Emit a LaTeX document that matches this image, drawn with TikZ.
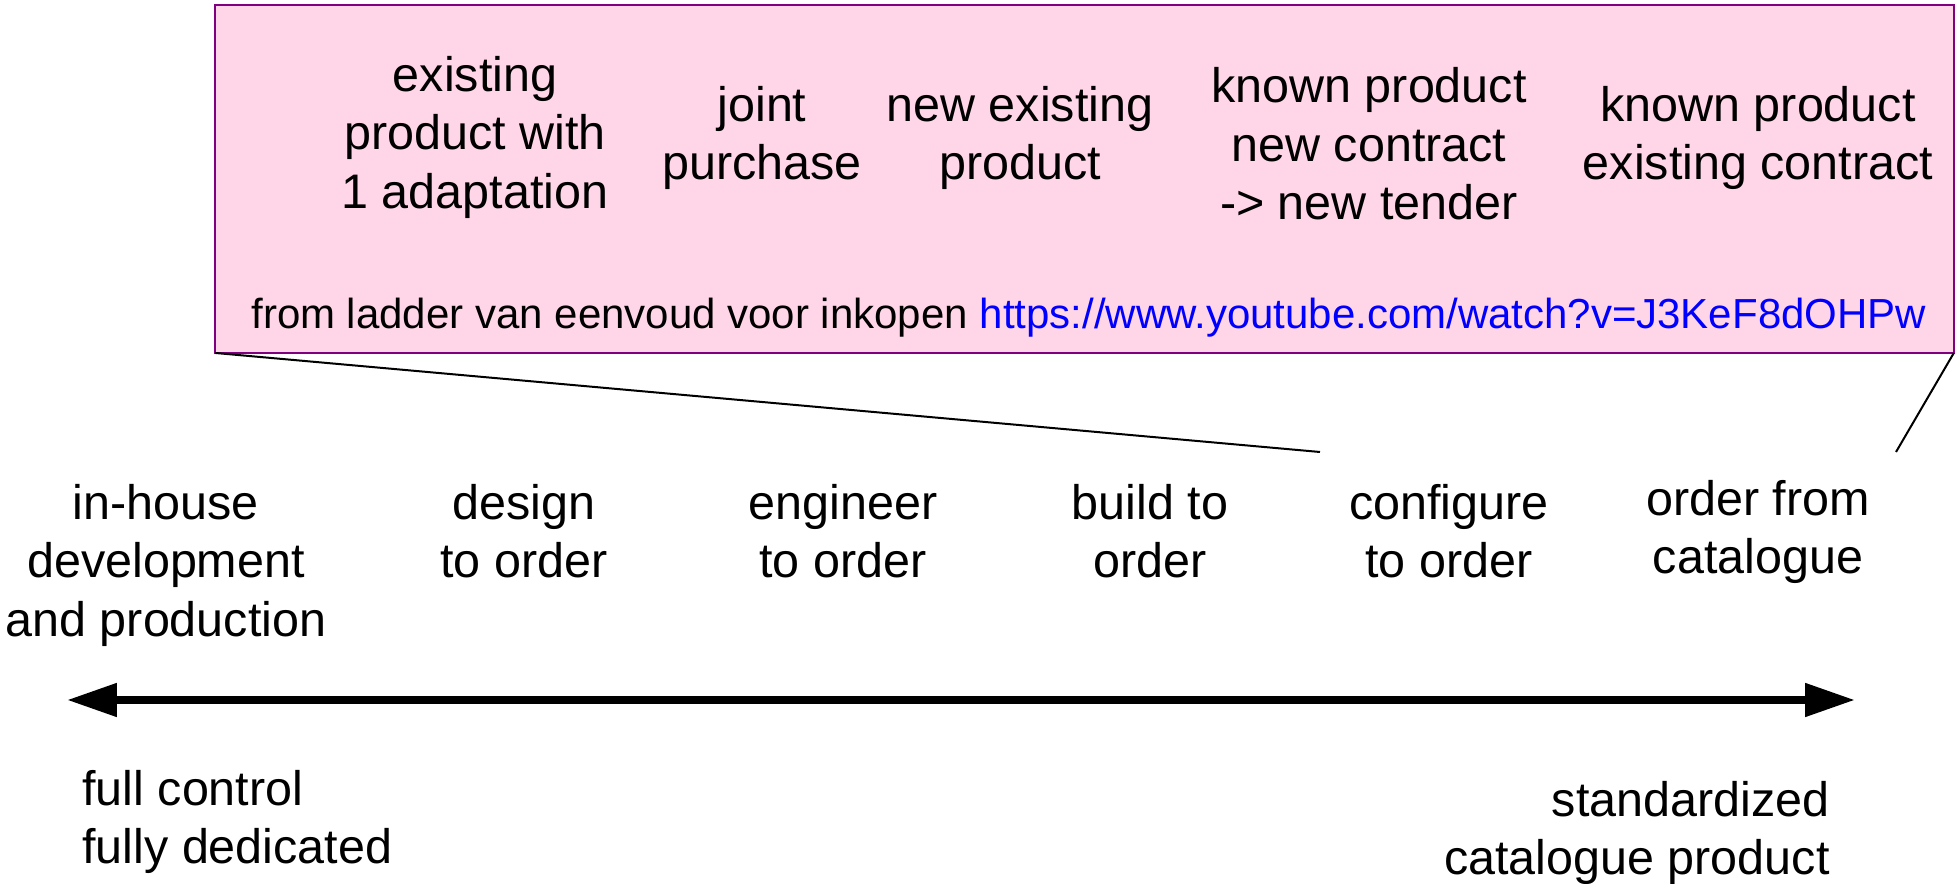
\documentclass[tikz,border=0pt]{standalone}
\usepackage{fontspec}
\setmainfont{Liberation Sans}
\usetikzlibrary{arrows.meta}
\definecolor{boxpink}{RGB}{255,214,232}
\definecolor{boxpurple}{RGB}{128,0,128}
\definecolor{linkblue}{RGB}{0,0,255}
\tikzset{
  lbl/.style={align=center, inner sep=0pt, font=\fontsize{27.6}{33.3}\selectfont},
  srclbl/.style={anchor=west, inner sep=0pt, font=\fontsize{23.9}{28.7}\selectfont},
  quote/.style={draw=boxpurple, fill=boxpink, line width=0.04cm, outer sep=0pt, inner sep=0pt, minimum width=34.78cm, minimum height=6.96cm},
  link/.style={line width=0.04cm},
  scalearrow/.style={line width=0.16cm, {Triangle[length=1cm,width=0.64cm]}-{Triangle[length=1cm,width=0.64cm]}},
}
\begin{document}
\begin{tikzpicture}[x=0.02cm, y=-0.02cm]
\useasboundingbox (0,0) rectangle (1955,884);
% source box
\node[quote] (src) at (1084.5,179){};
\node[lbl] (adapt) at (475,137){existing\\product with\\1 adaptation};
\node[lbl] (joint) at (762,138){joint\\purchase};
\node[lbl] (newex) at (1020,138){new existing\\product};
\node[lbl] (tender) at (1369,144){known product\\new contract\\-> new tender};
\node[lbl] (contract) at (1758,138){known product\\existing contract};
\node[srclbl] (ref) at (251,318){from ladder van eenvoud voor inkopen \textcolor{linkblue}{https://www.youtube.com/watch?v=J3KeF8dOHPw}};
% ladder
\node[lbl] (inhouse) at (166,565){in-house\\development\\and production};
\node[lbl] (dto) at (524,531){design\\to order};
\node[lbl] (eto) at (843,531){engineer\\to order};
\node[lbl] (bto) at (1150,531){build to\\order};
\node[lbl] (cto) at (1449,531){configure\\to order};
\node[lbl] (cat) at (1758,532){order from\\catalogue};
\coordinate (zoomL) at (1320,452);
\coordinate (zoomR) at (1896,452);
\draw[link] (src.south west) -- (zoomL);
\draw[link] (src.south east) -- (zoomR);
% scale
\coordinate (endL) at (67,700);
\coordinate (endR) at (1855,700);
\draw[scalearrow] (endL) -- (endR);
\node[lbl, align=left, anchor=west] (full) at (82,822){full control\\fully dedicated};
\node[lbl, align=right, anchor=east] (std) at (1830,833){standardized\\catalogue product};
\end{tikzpicture}
\end{document}
